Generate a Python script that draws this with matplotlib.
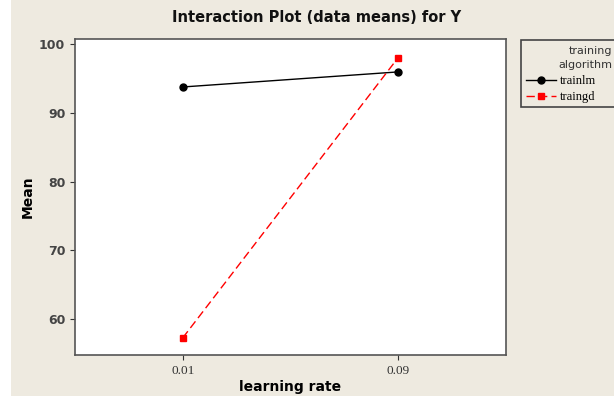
import matplotlib.pyplot as plt
from matplotlib.patches import Rectangle

# interaction plot data (means)
rates = ["0.01", "0.09"]
trainlm = [93.8, 96.0]
traingd = [57.2, 98.1]

W, H = 614, 398
bg = "#eeeae0"
fig = plt.figure(figsize=(W / 100, H / 100), dpi=100, facecolor=bg)
# white strips on left and bottom edge
fig.patches.append(Rectangle((0, 0), 11 / W, 1, transform=fig.transFigure,
                             facecolor="white", edgecolor="none", zorder=-1))
fig.patches.append(Rectangle((0, 0), 1, 2 / H, transform=fig.transFigure,
                             facecolor="white", edgecolor="none", zorder=-1))

ax = fig.add_axes([75 / W, 1 - 355 / H, 431 / W, 316 / H])
x = [1, 2]
ax.plot(x, trainlm, color="black", lw=1, marker="o", ms=5, label="trainlm")
ax.plot(x, traingd, color="red", lw=1, ls=(0, (6, 3)), marker="s", ms=5,
        label="traingd")

ax.set_xlim(0.5, 2.5)
ax.set_ylim(54.7, 100.8)
ax.set_xticks(x)
ax.set_xticklabels(rates, fontfamily="Liberation Serif", fontsize=9.5)
ax.set_yticks([60, 70, 80, 90, 100])
ax.tick_params(axis="y", labelsize=9, colors="#333333", labelcolor="#444444")
ax.tick_params(axis="x", colors="#333333")
for lab in ax.get_yticklabels():
    lab.set_fontweight("bold")
for s in ax.spines.values():
    s.set_color("#555555")
    s.set_linewidth(1.2)

ax.set_xlabel("learning rate", fontweight="bold", fontsize=10, labelpad=2)
ax.set_ylabel("Mean", fontweight="bold", fontsize=10, labelpad=3)
fig.text(0.515, 0.955, "Interaction Plot (data means) for Y", ha="center",
         va="center", fontweight="bold", fontsize=10.5, color="#111111")

# legend box (runs past the right edge, as in the reference)
fig.patches.append(Rectangle((521 / W, 1 - 107 / H), 110 / W, 67 / H,
                             transform=fig.transFigure, facecolor=bg,
                             edgecolor="#444444", lw=1.2))
fig.text(612 / W, 1 - 51 / H, "training", ha="right", va="center",
         fontsize=8, color="#333333")
fig.text(612 / W, 1 - 65 / H, "algorithm", ha="right", va="center",
         fontsize=8, color="#333333")
fig.legend(loc="upper left", bbox_to_anchor=(526 / W, 1 - 75 / H),
           borderaxespad=0, borderpad=0, frameon=False,
           prop={"family": "Liberation Serif", "size": 9},
           handlelength=2.4, labelspacing=0.35, handletextpad=0.35)

fig.savefig("out.png", dpi=100, facecolor=bg)
